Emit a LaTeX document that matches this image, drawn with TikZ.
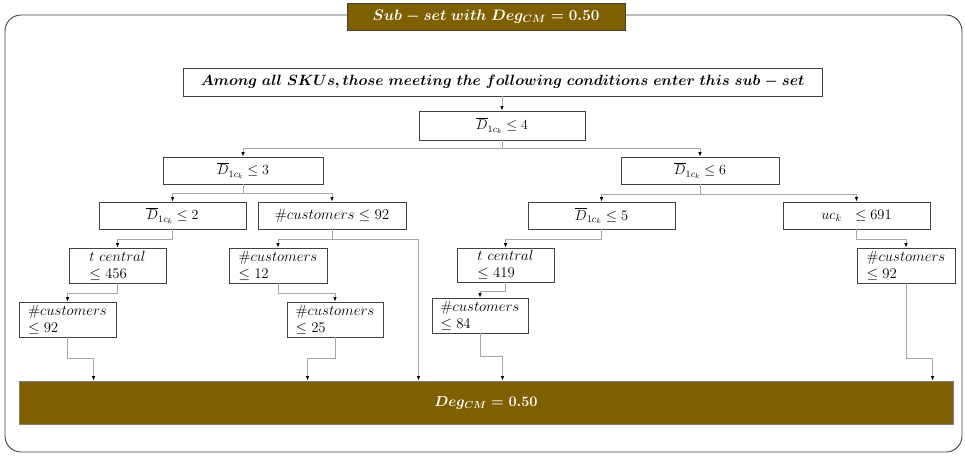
\documentclass[tikz,border=0pt]{standalone}
\usepackage{fix-cm}
\usepackage{amsmath}
\usetikzlibrary{arrows.meta,calc}
\definecolor{brownfill}{HTML}{7F6000}
\definecolor{conngray}{HTML}{A6A6A6}
\definecolor{edgegray}{HTML}{404040}
\begin{document}
\begin{tikzpicture}[x=1pt,y=-1pt,
  cbox/.style={draw=edgegray,line width=0.8pt,fill=white,inner sep=2pt,font=\fontsize{14}{16}\selectfont},
  mbox/.style={cbox,align=left,inner sep=1pt,font=\fontsize{14.8}{17}\selectfont},
  goldbox/.style={draw=edgegray,line width=0.9pt,fill=brownfill,text=white,font=\fontsize{14.5}{16}\selectfont},
  conn/.style={draw=conngray,line width=0.8pt,-{Latex[color=black,length=4.5pt,width=3.5pt]}},
  outerframe/.style={draw=edgegray,line width=0.9pt,rounded corners=16pt}]
\useasboundingbox (0,0) rectangle (965,455);
\draw[outerframe] (5,15) rectangle (962,452);
\node[goldbox,minimum width=278pt,minimum height=27pt,font=\fontsize{15.2}{16}\selectfont] (ttl) at (486,16.5) {$\boldsymbol{Sub - set\ with\ Deg_{CM} = 0.50}$};
\node[cbox,minimum width=639pt,minimum height=28pt,font=\fontsize{14.9}{16}\selectfont] (among) at (502.5,82) {$\boldsymbol{Among\ all\ SKUs, those\ meeting\ the\ following\ conditions\ enter\ this\ sub - set}$};
\node[cbox,minimum width=166pt,minimum height=29pt] (d4) at (502,125.5) {$\overline{D}_{1c_k} \le 4$};
\node[cbox,minimum width=160pt,minimum height=27pt] (d3) at (243,170.5) {$\overline{D}_{1c_k} \le 3$};
\node[cbox,minimum width=158pt,minimum height=27pt] (d6) at (700,170.5) {$\overline{D}_{1c_k} \le 6$};
\node[cbox,minimum width=147pt,minimum height=27pt] (d2) at (172.5,215.5) {$\overline{D}_{1c_k} \le 2$};
\node[cbox,minimum width=148pt,minimum height=27pt,font=\fontsize{15}{16}\selectfont] (c92) at (332,215.5) {$\#customers \le 92$};
\node[cbox,minimum width=147pt,minimum height=27pt,font=\fontsize{14.5}{16}\selectfont] (d5) at (601.5,215.5) {$\overline{D}_{1c_k} \le 5$};
\node[cbox,minimum width=147pt,minimum height=27pt,font=\fontsize{14.5}{16}\selectfont] (uc) at (856.5,215.5) {$uc_k\ \ \le 691$};
\node[mbox,minimum width=97pt,minimum height=35pt] (t456) at (117.5,265.5) {$t\ central$\\$\le 456$};
\node[mbox,minimum width=97pt,minimum height=35pt] (c92L) at (67.5,319.5) {$\#customers$\\$\le 92$};
\node[mbox,minimum width=98pt,minimum height=35pt] (c12) at (278,265.5) {$\#customers$\\$\le 12$};
\node[mbox,minimum width=96pt,minimum height=35pt] (c25) at (335,319.5) {$\#customers$\\$\le 25$};
\node[mbox,minimum width=97pt,minimum height=34pt] (t419) at (505.5,265) {$t\ central$\\$\le 419$};
\node[mbox,minimum width=96pt,minimum height=35pt] (c84) at (480,315.5) {$\#customers$\\$\le 84$};
\node[mbox,minimum width=98pt,minimum height=35pt] (c92R) at (906,265.5) {$\#customers$\\$\le 92$};
\node[goldbox,draw=gray,minimum width=934pt,minimum height=43pt] (bar) at (486,402.5) {$\boldsymbol{Deg_{CM} = 0.50}$};
\draw[conn] (among.south -| d4.north) -- (d4.north);
\draw[conn] (d4.south) -- ++(0,8) -| (d3.north);
\draw[conn] (d4.south) -- ++(0,8) -| (d6.north);
\draw[conn] (d3.south) -- ++(0,9) -| (d2.north);
\draw[conn] (d3.south) -- ++(0,9) -| (c92.north);
\draw[conn] (d6.south) -- ++(0,9.5) -| (d5.north);
\draw[conn] (d6.south) -- ++(0,9.5) -| (uc.north);
\draw[conn] (d2.south) -- ++(0,10) -| (t456.north);
\draw[conn] (t456.south) -- ++(0,10) -| (c92L.north);
\draw[conn] (c92L.south) -- ++(0,21) -| ([xshift=75pt]bar.north west);
\draw[conn] (c92.south) -- ++(0,10) -| (c12.north);
\draw[conn] (c92.south) -- ++(0,10) -| ([xshift=400pt]bar.north west);
\draw[conn] (c12.south) -- ++(0,10) -| (c25.north);
\draw[conn] (c25.south) -- ++(0,21) -| ([xshift=289pt]bar.north west);
\draw[conn] (d5.south) -- ++(0,10) -| (t419.north);
\draw[conn] (t419.south) -- ++(0,9) -| (c84.north);
\draw[conn] (c84.south) -- ++(0,23) -| ([xshift=484pt]bar.north west);
\draw[conn] (uc.south) -- ++(0,10) -| (c92R.north);
\draw[conn] (c92R.south) -- ++(0,75) -| ([xshift=914pt]bar.north west);
\end{tikzpicture}
\end{document}
